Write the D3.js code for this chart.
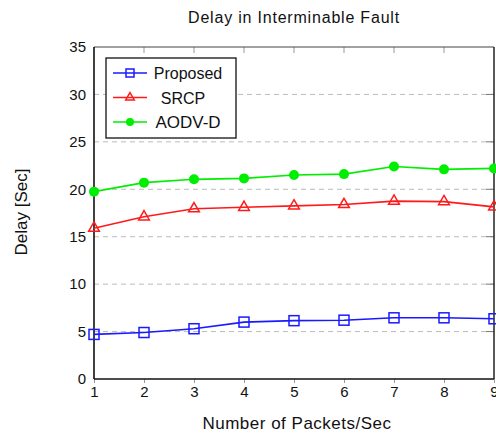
<!DOCTYPE html>
<html>
<head>
<meta charset="utf-8">
<script src="https://cdn.jsdelivr.net/npm/d3@7"></script>
<style>
  body { margin: 0; background: #fff; }
  svg text { font-family: "Liberation Sans", Arial, sans-serif; fill: #111; }
</style>
</head>
<body>
<div id="chart"></div>
<script>
// chart data
const packets = [1, 2, 3, 4, 5, 6, 7, 8, 9];
const proposed = [4.7, 4.9, 5.3, 6.0, 6.15, 6.2, 6.45, 6.45, 6.35];
const srcp = [15.9, 17.1, 17.95, 18.1, 18.25, 18.4, 18.75, 18.7, 18.15];
const aodvd = [19.75, 20.7, 21.05, 21.15, 21.5, 21.6, 22.4, 22.1, 22.2];
const yTicks = [0, 5, 10, 15, 20, 25, 30, 35];
const gridTicks = [5, 10, 15, 20, 25, 30];

const seriesList = [
  { name: "Proposed", values: proposed, color: "#1a1aff", marker: "square" },
  { name: "SRCP", values: srcp, color: "#ff1a1a", marker: "triangle" },
  { name: "AODV-D", values: aodvd, color: "#00ee00", marker: "circle" }
];

const W = 496, H = 436;
const margin = { top: 47, right: 2, bottom: 57, left: 94 };
const width = W - margin.left - margin.right;
const height = H - margin.top - margin.bottom;

const svg = d3.select("#chart").append("svg")
  .attr("width", W)
  .attr("height", H);

const g = svg.append("g")
  .attr("transform", `translate(${margin.left},${margin.top})`);

const x = d3.scaleLinear().domain([1, 9]).range([0, width]);
const y = d3.scaleLinear().domain([0, 35]).range([height, 0]);

// dashed horizontal grid
g.selectAll(".grid")
  .data(gridTicks)
  .join("line")
  .attr("x1", 0).attr("x2", width)
  .attr("y1", d => y(d)).attr("y2", d => y(d))
  .attr("stroke", "#bbb")
  .attr("stroke-width", 1)
  .attr("stroke-dasharray", "5,4");

// axes
const xAxis = g.append("g")
  .attr("transform", `translate(0,${height})`)
  .call(d3.axisBottom(x).tickValues(packets).tickSize(4).tickPadding(3).tickFormat(d3.format("d")));
const yAxis = g.append("g")
  .call(d3.axisLeft(y).tickValues(yTicks).tickSize(0).tickPadding(8));

[xAxis, yAxis].forEach(a => {
  a.select(".domain").remove();
  a.selectAll("text").style("font-size", "15px").attr("fill", "#111");
  a.selectAll(".tick line").attr("stroke", "#999");
});

// inner ticks on top and right
g.selectAll(".ttick")
  .data(packets.slice(1, -1))
  .join("line")
  .attr("x1", d => x(d)).attr("x2", d => x(d))
  .attr("y1", 0).attr("y2", 6)
  .attr("stroke", "#999");
g.selectAll(".rtick")
  .data(gridTicks)
  .join("line")
  .attr("x1", width - 8).attr("x2", width)
  .attr("y1", d => y(d)).attr("y2", d => y(d))
  .attr("stroke", "#777");

// frame
g.append("line").attr("x1", 0).attr("x2", width).attr("y1", 0).attr("y2", 0)
  .attr("stroke", "#444").attr("stroke-width", 1.2);
g.append("line").attr("x1", width).attr("x2", width).attr("y1", 0).attr("y2", height)
  .attr("stroke", "#222").attr("stroke-width", 1.5);
g.append("line").attr("x1", 0).attr("x2", 0).attr("y1", 0).attr("y2", height)
  .attr("stroke", "#111").attr("stroke-width", 1.6);
g.append("line").attr("x1", 0).attr("x2", width).attr("y1", height).attr("y2", height)
  .attr("stroke", "#111").attr("stroke-width", 1.6);

function drawMarker(sel, type, color, k) {
  if (type === "square") {
    sel.append("rect")
      .attr("x", -5 * k).attr("y", -5 * k).attr("width", 10 * k).attr("height", 10 * k)
      .attr("fill", "none").attr("stroke", color).attr("stroke-width", 1.5);
  } else if (type === "triangle") {
    sel.append("path")
      .attr("d", d3.symbol().type(d3.symbolTriangle).size(50 * k * k))
      .attr("fill", "none").attr("stroke", color).attr("stroke-width", 1.5);
  } else {
    sel.append("circle").attr("r", 5 * k).attr("fill", color);
  }
}

const line = d3.line()
  .x((d, i) => x(packets[i]))
  .y(d => y(d));

seriesList.forEach(s => {
  const sg = g.append("g");
  sg.append("path")
    .datum(s.values)
    .attr("d", line)
    .attr("fill", "none")
    .attr("stroke", s.color)
    .attr("stroke-width", 1.6);
  sg.selectAll(".m")
    .data(s.values)
    .join("g")
    .attr("transform", (d, i) => `translate(${x(packets[i])},${y(d)})`)
    .each(function() { drawMarker(d3.select(this), s.marker, s.color, 1); });
});

// legend
const lg = g.append("g").attr("transform", "translate(12,11)");
lg.append("rect")
  .attr("width", 130).attr("height", 80)
  .attr("fill", "#fff").attr("stroke", "#111").attr("stroke-width", 1.3);
seriesList.forEach((s, i) => {
  const row = lg.append("g").attr("transform", `translate(0,${15 + i * 24.5})`);
  row.append("line").attr("x1", 7).attr("x2", 41).attr("y1", 0).attr("y2", 0)
    .attr("stroke", s.color).attr("stroke-width", 1.6);
  const mk = row.append("g").attr("transform", "translate(24,0)");
  drawMarker(mk, s.marker, s.color, 0.8);
  row.append("text")
    .attr("x", s.name === "SRCP" ? 77 : 82).attr("y", 6)
    .attr("text-anchor", "middle")
    .style("font-size", s.name === "AODV-D" ? "17px" : "16px")
    .text(s.name);
});

// titles
svg.append("text")
  .attr("x", margin.left + width / 2).attr("y", 23)
  .attr("text-anchor", "middle")
  .style("font-size", "16px")
  .style("letter-spacing", "0.8px")
  .text("Delay in Interminable Fault");
svg.append("text")
  .attr("x", 297).attr("y", 429)
  .attr("text-anchor", "middle")
  .style("font-size", "17px")
  .style("letter-spacing", "0.5px")
  .text("Number of Packets/Sec");
svg.append("text")
  .attr("transform", `translate(27,212) rotate(-90)`)
  .attr("text-anchor", "middle")
  .style("font-size", "17px")
  .text("Delay [Sec]");
</script>
</body>
</html>
